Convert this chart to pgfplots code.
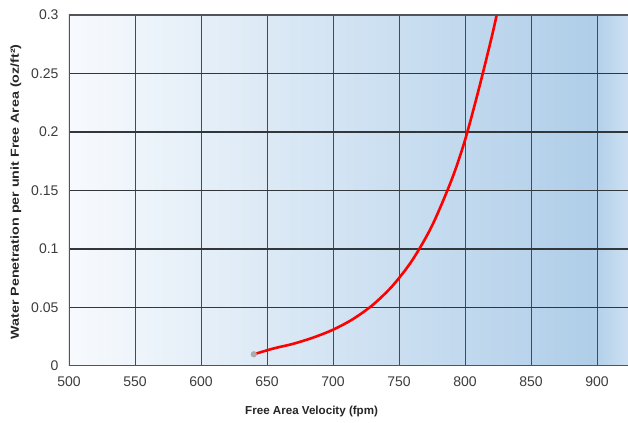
\documentclass[border=0pt]{standalone}
\usepackage{fontspec}
\setmainfont{Liberation Sans}
\usepackage{pgfplots}
\pgfplotsset{compat=1.18}
\definecolor{gridc}{RGB}{50,55,60}
\definecolor{bgl}{RGB}{247,250,253}
\definecolor{bgr}{RGB}{176,206,233}
\definecolor{bgr2}{RGB}{205,224,242}
\definecolor{tickc}{RGB}{60,60,60}
\begin{document}
\begin{tikzpicture}
\begin{axis}[
  scale only axis,
  width=559pt, height=351pt,
  xmin=500, xmax=923.5, ymin=0, ymax=0.3,
  xtick={500,550,...,900},
  ytick={0,0.05,...,0.3},
  yticklabels={0,0.05,0.1,0.15,0.2,0.25,0.3},
  major tick length=0pt,
  axis line style={draw=none},
  grid=none,
  tick label style={font=\fontsize{14}{16}\selectfont, text=tickc},
  /pgf/number format/assume math mode=true,
  xticklabel style={yshift=-7pt},
  yticklabel style={xshift=-7pt},
  xlabel={\textbf{Free Area Velocity (fpm)}},
  ylabel={\scalebox{1.23}[1]{\textbf{Water Penetration per unit Free Area (oz/ft²)}}},
  label style={font=\fontsize{11.6}{13}\selectfont, text=black!85},
  xlabel style={at={(axis description cs:0.434,0)}, anchor=center, yshift=-46pt},
  ylabel style={at={(axis description cs:0,0.496)}, anchor=center, xshift=0pt, yshift=53pt},
  clip=true,
]
\fill[left color=bgl, right color=bgr] (axis cs:500,0) rectangle (axis cs:897,0.3);
\fill[left color=bgr, right color=bgr2] (axis cs:897,0) rectangle (axis cs:923.5,0.3);
\foreach \x in {550,600,...,900} {
  \edef\tmp{\noexpand\draw[gridc!90, line width=0.9pt] (axis cs:\x,0) -- (axis cs:\x,0.3);}\tmp
}
\foreach \y in {0.05,0.1,0.15,0.2,0.25} {
  \edef\tmp{\noexpand\draw[gridc, line width=1.3pt] (axis cs:500,\y) -- (axis cs:923.5,\y);}\tmp
}
\draw[gridc!85, line width=1.6pt] (axis cs:923.5,0.3) -- (axis cs:500,0.3) -- (axis cs:500,0) -- (axis cs:923.5,0);
\addplot[red, line width=2.6pt, smooth, tension=0.5] coordinates {
 (640,0.010) (655,0.015) (670,0.019) (685,0.0243) (700,0.031) (715,0.040)
 (730,0.0521) (745,0.0684) (760,0.0903) (775,0.1198) (790,0.1595) (800,0.193)
 (810,0.2346) (820,0.280) (824,0.300)
};
\addplot[only marks, mark=*, mark size=2.9pt, color=black!33] coordinates {(640,0.010)};
\end{axis}
\pgfresetboundingbox
\path (current axis.south west) ++(-69pt,-57pt) coordinate (bl);
\path (current axis.north east) ++(0pt,15pt) coordinate (tr);
\path (bl) rectangle (tr);
\end{tikzpicture}
\end{document}
